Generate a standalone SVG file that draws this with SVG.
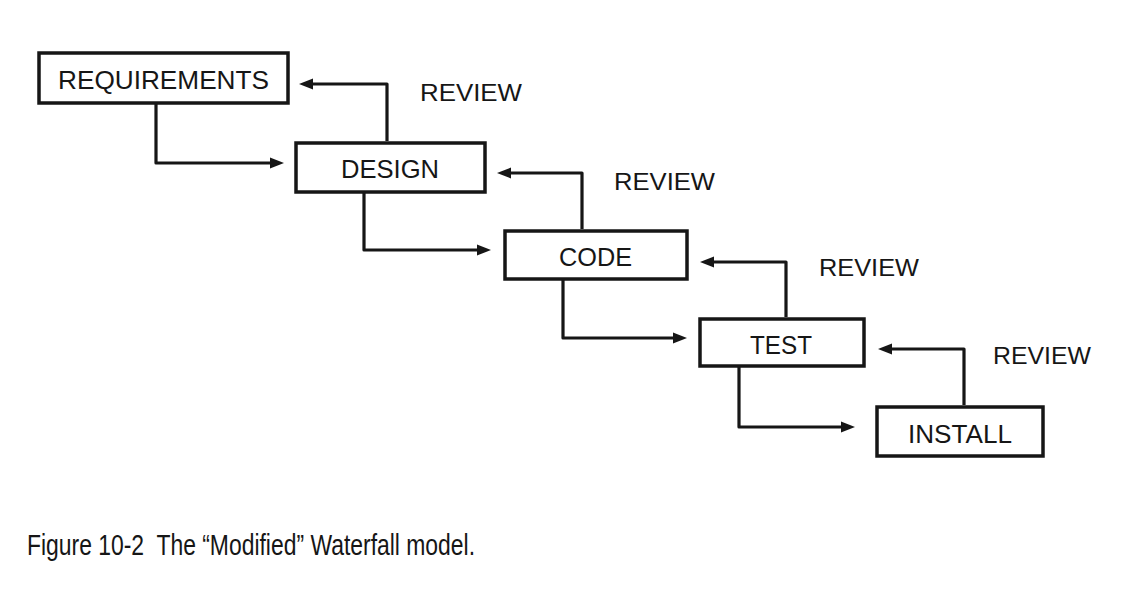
<svg xmlns="http://www.w3.org/2000/svg" width="1144" height="597" viewBox="0 0 1144 597">
<style>
.box{fill:none;stroke:#161616;stroke-width:3.5}
.lbl{font-family:"Liberation Sans",Arial,sans-serif;font-size:25px;fill:#161616;text-anchor:middle}
.rev{font-family:"Liberation Sans",Arial,sans-serif;font-size:23.5px;fill:#161616}
.cap{font-family:"Liberation Sans",Arial,sans-serif;font-size:29px;fill:#161616}
.con{fill:none;stroke:#161616;stroke-width:3.2;stroke-linejoin:round}
</style>
<defs>
<marker id="ah" markerUnits="userSpaceOnUse" markerWidth="16" markerHeight="14" refX="4" refY="6" orient="auto">
<path d="M0,0.5 L14,6 L0,11.5 z" fill="#161616"/>
</marker>
</defs>
<rect width="1144" height="597" fill="#fff"/>
<g id="requirements"><rect class="box" x="39" y="53" width="249" height="50"/><text class="lbl" x="163.5" y="89" textLength="211" lengthAdjust="spacingAndGlyphs">REQUIREMENTS</text></g>
<g id="design"><rect class="box" x="296" y="143" width="189" height="49"/><text class="lbl" x="390" y="178" textLength="98" lengthAdjust="spacingAndGlyphs">DESIGN</text></g>
<g id="code"><rect class="box" x="505" y="231" width="182" height="48"/><text class="lbl" x="595.5" y="266" textLength="73" lengthAdjust="spacingAndGlyphs">CODE</text></g>
<g id="test"><rect class="box" x="700" y="319" width="164" height="47"/><text class="lbl" x="781" y="354" textLength="62" lengthAdjust="spacingAndGlyphs">TEST</text></g>
<g id="install"><rect class="box" x="877" y="407" width="166" height="49"/><text class="lbl" x="960" y="443" textLength="104" lengthAdjust="spacingAndGlyphs">INSTALL</text></g>
<g id="connectors">
<path class="con" d="M156 104 V163 H274" marker-end="url(#ah)"/>
<path class="con" d="M387 141 V84 H309" marker-end="url(#ah)"/>
<path class="con" d="M364 193 V250 H481" marker-end="url(#ah)"/>
<path class="con" d="M582 229 V173 H507" marker-end="url(#ah)"/>
<path class="con" d="M563 280 V338 H677" marker-end="url(#ah)"/>
<path class="con" d="M786 317 V262 H710" marker-end="url(#ah)"/>
<path class="con" d="M739 367 V427 H845" marker-end="url(#ah)"/>
<path class="con" d="M964 405 V349 H888" marker-end="url(#ah)"/>
</g>
<g id="review-labels">
<text class="rev" x="420" y="101" textLength="102" lengthAdjust="spacingAndGlyphs">REVIEW</text>
<text class="rev" x="614" y="190" textLength="101" lengthAdjust="spacingAndGlyphs">REVIEW</text>
<text class="rev" x="819" y="276" textLength="100" lengthAdjust="spacingAndGlyphs">REVIEW</text>
<text class="rev" x="993" y="364" textLength="98" lengthAdjust="spacingAndGlyphs">REVIEW</text>
</g>
<text class="cap" x="27" y="555" textLength="448" lengthAdjust="spacingAndGlyphs" xml:space="preserve">Figure 10-2  The “Modified” Waterfall model.</text>
</svg>
